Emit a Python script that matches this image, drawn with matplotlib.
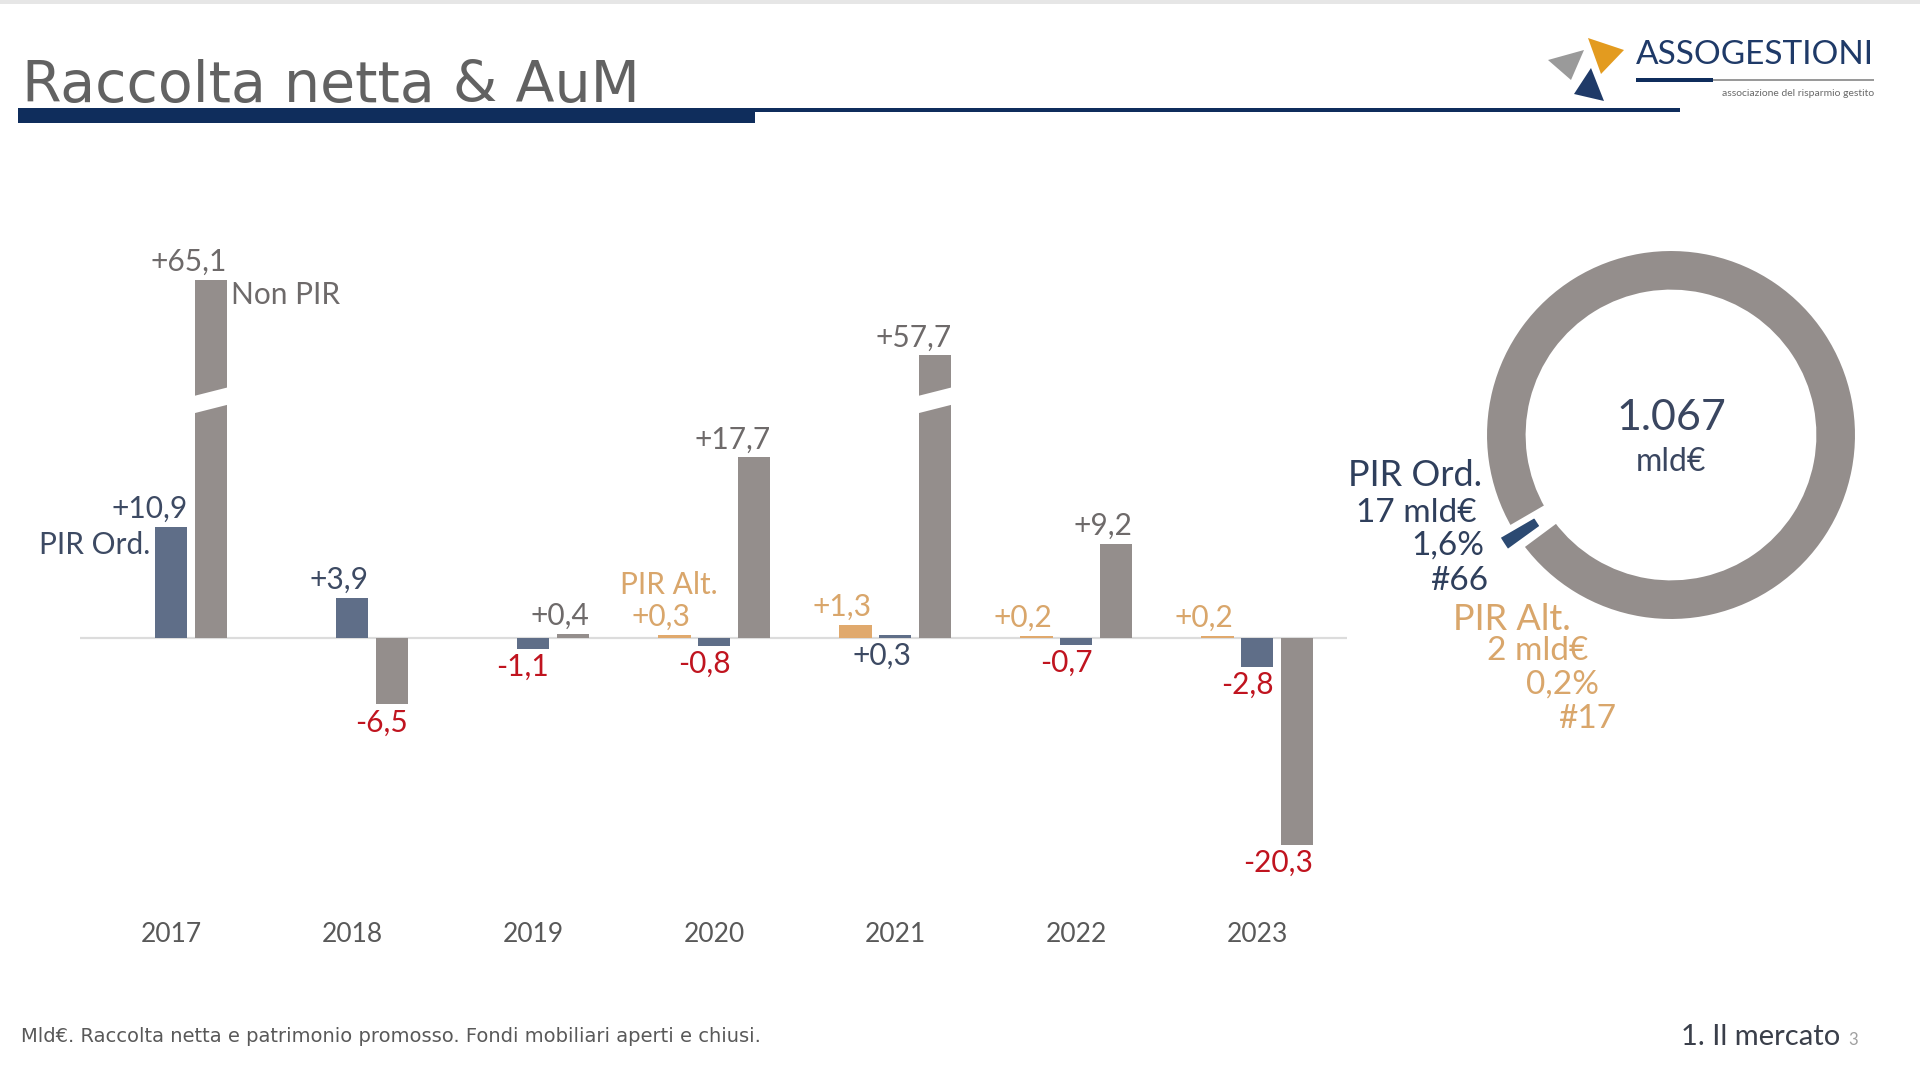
import matplotlib
matplotlib.use('Agg')
import matplotlib.pyplot as plt
from matplotlib.patches import Polygon, Rectangle
import numpy as np

# ---------------- data ----------------
years = ['2017', '2018', '2019', '2020', '2021', '2022', '2023']
pir_alt = [np.nan, np.nan, np.nan, 0.3, 1.3, 0.2, 0.2]      # PIR Alternativi, mld€
pir_ord = [10.9, 3.9, -1.1, -0.8, 0.3, -0.7, -2.8]          # PIR Ordinari, mld€
non_pir = [65.1, -6.5, 0.4, 17.7, 57.7, 9.2, -20.3]         # Non PIR, mld€

aum_total_label = '1.067'
donut_names = ['PIR Ord.', 'PIR Alt.', 'Non PIR']
donut_share = [1.6, 0.2, 98.2]            # % of AuM
donut_mld = ['17 mld€', '2 mld€']
donut_pct = ['1,6%', '0,2%']
donut_funds = ['#66', '#17']

# ---------------- style ----------------
SLATE = '#5f6e88'
GRAY = '#948e8c'
TAN = '#e0a96d'
NAVY = '#0f2d5c'
RED = '#c0141f'
LBL_GRAY = '#6e6a6a'
LBL_NAVY = '#3d4a63'
LBL_TAN = '#d9a66b'
FONT = 'Lato'

W, H = 1920, 1080
fig = plt.figure(figsize=(19.2, 10.8), dpi=100)
fig.patch.set_facecolor('white')


def fx(px):
    return px / W


def fy(py):
    return 1 - py / H


def fmt(v):
    return f'{v:+.1f}'.replace('.', ',')


# ---------------- header ----------------
fig.add_artist(Rectangle((0, fy(4)), 1, 4 / H, transform=fig.transFigure,
                         color='#e6e6e6', lw=0))
fig.text(fx(22), fy(102), 'Raccolta netta & AuM', family='DejaVu Sans',
         fontsize=41, color='#626262', ha='left', va='baseline')
fig.add_artist(Rectangle((fx(18), fy(123)), fx(755) - fx(18), 15 / H,
                         transform=fig.transFigure, color=NAVY, lw=0))
fig.add_artist(Rectangle((fx(755), fy(112)), fx(1680) - fx(755), 4 / H,
                         transform=fig.transFigure, color=NAVY, lw=0))

# logo
def tri(pts, color):
    fig.add_artist(Polygon([(fx(a), fy(b)) for a, b in pts], closed=True,
                           transform=fig.transFigure, color=color, lw=0))

tri([(1588, 38), (1624, 50), (1601, 74)], '#e39b1f')
tri([(1548, 60), (1584, 50), (1571, 80)], '#9a9a9a')
tri([(1591, 68), (1574, 94), (1604, 101)], '#1f3a68')
fig.text(fx(1636), fy(55), 'ASSOGESTIONI', family=FONT, fontsize=24,
         color='#1f3a68', ha='left', va='center')
fig.add_artist(Rectangle((fx(1636), fy(82)), fx(1713) - fx(1636), 4 / H,
                         transform=fig.transFigure, color=NAVY, lw=0))
fig.add_artist(Rectangle((fx(1713), fy(81)), fx(1874) - fx(1713), 2 / H,
                         transform=fig.transFigure, color='#9a9a9a', lw=0))
fig.text(fx(1874), fy(93), 'associazione del risparmio gestito', family=FONT,
         fontsize=7.5, color='#6a6a6a', ha='right', va='center')

# ---------------- bar chart ----------------
PX_UNIT = 10.2
ax = fig.add_axes([fx(80), fy(900), (1347 - 80) / W, 650 / H])
ax.set_xlim(-0.503, 6.497)
ax.set_ylim(-(900 - 638) / PX_UNIT, (638 - 250) / PX_UNIT)
ax.axis('off')

x = np.arange(len(years))
BW, OFF = 0.18, 0.22
BRK, SKIP = 23.3, 30.0   # broken axis: 30 mld€ hidden above 23.3

alt_idx = [i for i, v in enumerate(pir_alt) if not np.isnan(v)]
alt_vals = [pir_alt[i] for i in alt_idx]
disp_non = [v - SKIP if v > BRK + SKIP else v for v in non_pir]

ax.axhline(0, color='#dcdcdc', lw=1.6, zorder=1)
ax.bar(x[alt_idx] - OFF, alt_vals, BW, color=TAN, zorder=2)
ax.bar(x, pir_ord, BW, color=SLATE, zorder=2)
ax.bar(x + OFF, disp_non, BW, color=GRAY, zorder=2)

# break marks
g, s = 1.7, 0.9
for i, v in enumerate(non_pir):
    if v > BRK + SKIP:
        x0 = i + OFF - BW / 2 - 0.01
        x1 = i + OFF + BW / 2 + 0.01
        ax.add_patch(Polygon([(x0, BRK - s / 2 - g / 2), (x1, BRK + s / 2 - g / 2),
                              (x1, BRK + s / 2 + g / 2), (x0, BRK - s / 2 + g / 2)],
                             closed=True, color='white', lw=0, zorder=3))

LBL_SIZE = 21.5
OFFS = 13


def label(xr, ytop, v, color, below=False):
    down = below or v < 0
    ax.annotate(fmt(v), (xr, ytop), xytext=(0, -OFFS if down else OFFS),
                textcoords='offset points', ha='right', va='center',
                family=FONT, fontsize=LBL_SIZE, color=color, zorder=4)


below_ord = {4}  # 2021 PIR Ord label placed under the baseline
for i, v in zip(alt_idx, alt_vals):
    label(i - OFF + BW / 2, v, v, LBL_TAN)
for i, v in enumerate(pir_ord):
    col = RED if v < 0 else LBL_NAVY
    label(i + BW / 2, 0 if i in below_ord else v, v, col, below=i in below_ord)
for i, v in enumerate(non_pir):
    col = RED if v < 0 else LBL_GRAY
    label(i + OFF + BW / 2, disp_non[i], v, col)

# series annotations
ax.annotate('Non PIR', (0 + OFF + BW / 2, disp_non[0]), xytext=(3, -11),
            textcoords='offset points', ha='left', va='center', family=FONT,
            fontsize=LBL_SIZE, color=LBL_GRAY)
ax.annotate('PIR Ord.', (0 - BW / 2, pir_ord[0]), xytext=(-3, -13),
            textcoords='offset points', ha='right', va='center', family=FONT,
            fontsize=LBL_SIZE, color=LBL_NAVY)
ax.annotate('PIR Alt.', (alt_idx[0] - OFF, alt_vals[0]), xytext=(-4, 36),
            textcoords='offset points', ha='center', va='center', family=FONT,
            fontsize=LBL_SIZE, color=LBL_TAN)

for i, yr in enumerate(years):
    ax.text(i, -(934 - 900) / 650, yr, transform=ax.get_xaxis_transform(),
            ha='center', va='center', family=FONT, fontsize=19, color='#595959')

# ---------------- donut ----------------
CX, CY, R = 1671, 435, 184
dax = fig.add_axes([fx(CX - 230), fy(CY + 230), 460 / W, 460 / H])
dax.axis('off')
start = 213 - donut_share[0] * 3.6 / 2
dax.pie(donut_share, radius=1.015, startangle=start, counterclock=True,
        colors=['#2c4a72', TAN, GRAY], explode=[0.08, 0, 0],
        wedgeprops=dict(width=0.24, edgecolor='white', linewidth=4))
dax.set_xlim(-1.25, 1.25)
dax.set_ylim(-1.25, 1.25)

fig.text(fx(CX), fy(418), aum_total_label, family=FONT, fontsize=31,
         color='#3a4660', ha='center', va='center')
fig.text(fx(CX), fy(462), 'mld€', family=FONT, fontsize=23,
         color='#3a4660', ha='center', va='center')

DN = '#2f3f5c'
fig.text(fx(1482), fy(476), donut_names[0], family=FONT, fontsize=26, color=DN,
         ha='right', va='center')
fig.text(fx(1477), fy(513), donut_mld[0], family=FONT, fontsize=24, color=DN,
         ha='right', va='center')
fig.text(fx(1484), fy(546), donut_pct[0], family=FONT, fontsize=24, color=DN,
         ha='right', va='center')
fig.text(fx(1488), fy(581), donut_funds[0], family=FONT, fontsize=24, color=DN,
         ha='right', va='center')

fig.text(fx(1571), fy(620), donut_names[1], family=FONT, fontsize=26, color=LBL_TAN,
         ha='right', va='center')
fig.text(fx(1588), fy(651), donut_mld[1], family=FONT, fontsize=24, color=LBL_TAN,
         ha='right', va='center')
fig.text(fx(1599), fy(685), donut_pct[1], family=FONT, fontsize=24, color=LBL_TAN,
         ha='right', va='center')
fig.text(fx(1616), fy(719), donut_funds[1], family=FONT, fontsize=24, color=LBL_TAN,
         ha='right', va='center')

# ---------------- footer ----------------
fig.text(fx(21), fy(1036), 'Mld€. Raccolta netta e patrimonio promosso. Fondi mobiliari aperti e chiusi.',
         family='DejaVu Sans', fontsize=14, color='#595959', ha='left', va='center')
fig.text(fx(1840), fy(1037), '1. Il mercato', family=FONT, fontsize=21,
         color='#3a3f4a', ha='right', va='center')
fig.text(fx(1848), fy(1040), '3', family=FONT, fontsize=12,
         color='#a0a0a0', ha='left', va='center')

fig.savefig('out.png', dpi=100)
